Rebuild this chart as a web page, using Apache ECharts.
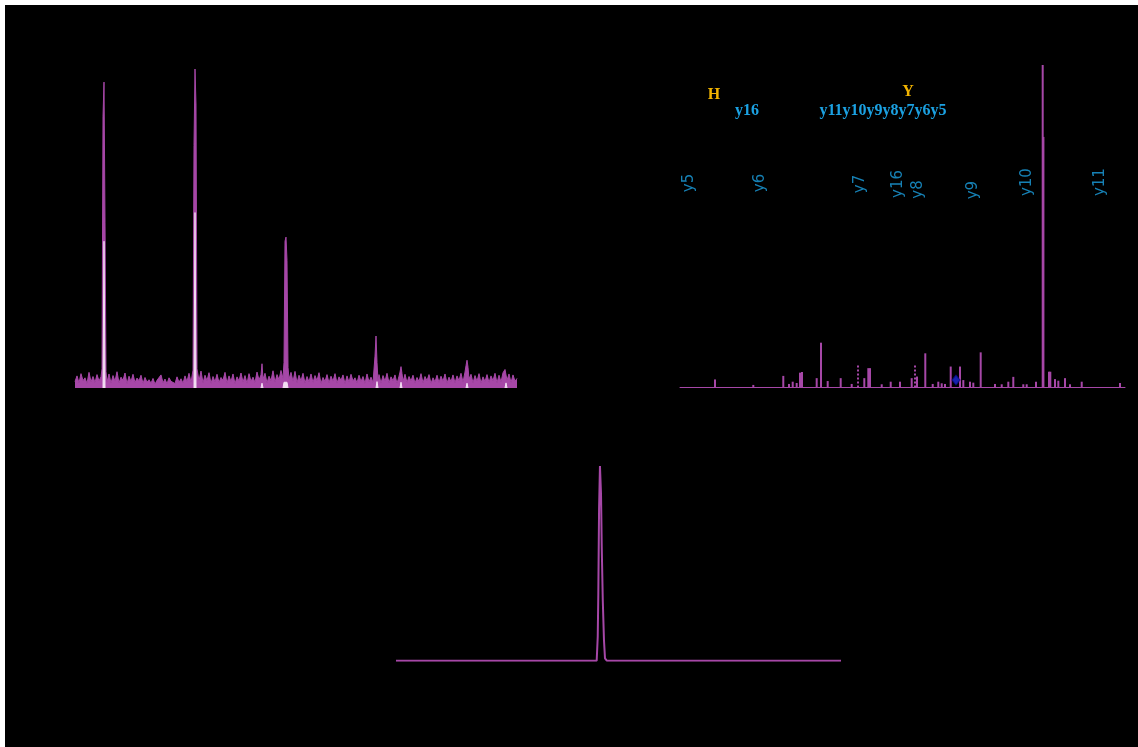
<!DOCTYPE html>
<html>
<head>
<meta charset="utf-8">
<script src="https://cdn.jsdelivr.net/npm/echarts@6/dist/echarts.min.js"></script>
<style>
  html, body { margin: 0; padding: 0; background: #000; overflow: hidden; }
  #frame { position: fixed; left: 0; top: 0; right: 0; bottom: 0; box-sizing: border-box;
           border-top: 5px solid #fff; border-left: 5px solid #fff; }
  #chart { position: absolute; left: 5px; top: 5px; width: 1133px; height: 742px; }
</style>
</head>
<body>
<div id="frame"></div>
<div id="chart"></div>
<script>
// Extracted ion chromatogram: [retention time (min), relative intensity %]
const xicTrace = [
  [18.0,2.0],[18.2,3.8],[18.4,1.6],[18.6,4.5],[18.8,2.3],[19.0,3.2],[19.2,1.4],[19.4,4.9],[19.6,1.9],[19.8,3.6],
  [20.0,1.7],[20.2,4.2],[20.4,2.2],[20.6,3.5],[20.7,6.0],[20.8,85],[20.9,95.9],[21.0,52],[21.1,5.2],[21.2,1.8],[21.4,4.4],
  [21.6,1.5],[21.8,3.9],[22.0,2.1],[22.2,5.1],[22.4,1.6],[22.6,3.4],[22.8,2.4],[23.0,4.7],[23.2,1.3],[23.4,3.7],
  [23.6,2.0],[23.8,4.3],[24.0,1.7],[24.2,3.1],[24.4,2.3],[24.6,4.0],[24.8,1.4],[25.0,3.3],[25.2,1.8],[25.4,2.6],
  [25.6,1.5],[25.8,3.0],[26.0,1.2],[26.2,2.4],[26.4,1.9],[26.6,4.1],[26.8,1.6],[27.0,2.8],[27.2,1.3],[27.4,3.2],
  [27.6,2.1],[27.8,2.7],[28.0,1.4],[28.2,3.5],[28.4,1.8],[28.6,2.9],[28.8,1.5],[29.0,3.8],[29.2,2.0],[29.4,4.6],
  [29.6,1.7],[29.8,5.6],[29.9,76],[30.0,100],[30.1,88.7],[30.2,6.0],[30.4,2.2],[30.6,5.3],[30.8,1.6],[31.0,4.0],
  [31.2,2.3],[31.4,4.8],[31.6,1.4],[31.8,3.6],[32.0,1.9],[32.2,4.3],[32.4,1.7],[32.6,3.3],[32.8,2.4],[33.0,4.9],
  [33.2,1.5],[33.4,3.8],[33.6,2.0],[33.8,4.4],[34.0,1.3],[34.2,3.5],[34.4,2.2],[34.6,4.7],[34.8,1.8],[35.0,3.9],
  [35.2,1.4],[35.4,4.5],[35.6,2.1],[35.8,3.4],[36.0,1.7],[36.2,5.0],[36.4,2.5],[36.6,4.1],[36.7,7.6],[36.8,2.8],[37.0,4.6],
  [37.2,1.6],[37.4,3.7],[37.6,2.3],[37.8,5.4],[38.0,1.8],[38.2,4.2],[38.4,2.6],[38.6,5.5],[38.8,3.0],[38.9,8.0],
  [39.0,46],[39.1,47.3],[39.2,40],[39.3,6.5],
  [39.4,2.8],[39.6,4.9],[39.8,2.0],[40.0,5.2],[40.2,1.6],[40.4,4.0],[40.6,2.2],[40.8,4.6],[41.0,1.5],[41.2,3.6],
  [41.4,1.9],[41.6,4.4],[41.8,1.7],[42.0,3.9],[42.2,2.3],[42.4,4.8],[42.6,1.4],[42.8,3.3],[43.0,2.0],[43.2,4.2],
  [43.4,1.6],[43.6,3.7],[43.8,2.1],[44.0,4.5],[44.2,1.5],[44.4,3.5],[44.6,2.4],[44.8,4.1],[45.0,1.3],[45.2,3.8],
  [45.4,1.8],[45.6,4.3],[45.8,2.2],[46.0,3.2],[46.2,1.6],[46.4,4.0],[46.6,2.0],[46.8,3.6],[47.0,1.4],[47.2,4.4],
  [47.4,1.9],[47.6,3.4],[47.8,1.7],[48.0,10],[48.1,16.3],[48.2,8],[48.3,2.2],[48.4,4.2],[48.6,1.5],[48.8,3.9],
  [49.0,2.1],[49.2,4.6],[49.4,1.6],[49.6,3.5],[49.8,2.3],[50.0,4.1],[50.2,1.4],[50.4,3.7],[50.5,5.0],[50.6,6.7],[50.7,4.5],[50.8,2.0],
  [51.0,4.3],[51.2,1.7],[51.4,3.6],[51.6,2.2],[51.8,4.0],[52.0,1.5],[52.2,3.3],[52.4,2.0],[52.6,4.5],[52.8,1.6],
  [53.0,3.6],[53.2,2.3],[53.4,4.2],[53.6,1.4],[53.8,3.2],[54.0,1.9],[54.2,4.0],[54.4,1.7],[54.6,3.7],[54.8,2.1],
  [55.0,4.4],[55.2,1.5],[55.4,3.4],[55.6,2.0],[55.8,4.1],[56.0,1.6],[56.2,3.8],[56.4,2.3],[56.6,4.6],[56.8,1.8],
  [57.0,5.0],[57.1,7.0],[57.2,8.7],[57.3,6.5],[57.4,2.8],[57.6,4.3],[57.8,1.6],[58.0,3.9],[58.2,2.1],[58.4,4.5],
  [58.6,1.5],[58.8,3.5],[59.0,2.0],[59.2,4.2],[59.4,1.7],[59.6,3.8],[59.8,2.3],[60.0,4.6],[60.2,1.6],[60.4,4.0],
  [60.6,1.9],[60.8,4.8],[61.0,5.8],[61.2,2.4],[61.4,4.4],[61.6,1.7],[61.8,4.1],[62.0,2.1],[62.2,3.0]
];

// Overlaid trace of the co-eluting isotope (drawn light, on top)
const xicOverlay = [
  [20.8,0],[20.9,46],[21.0,0],[21.05,'-'],
  [29.9,0],[30.0,55],[30.1,0],[30.15,'-'],
  [36.6,0],[36.7,1.5],[36.8,0],[36.85,'-'],
  [38.8,0],[38.9,1.8],[39.2,1.8],[39.3,0],[39.35,'-'],
  [48.1,0],[48.2,2.0],[48.3,0],[48.35,'-'],
  [50.5,0],[50.6,1.8],[50.7,0],[50.75,'-'],
  [57.1,0],[57.2,1.5],[57.3,0],[57.35,'-'],
  [61.0,0],[61.1,1.6],[61.2,0]
];

// MS/MS spectrum centroids: [m/z, relative intensity %]
const spectrumPeaks = [
  [341.6,2.5],[496.5,0.8],[617.8,3.6],[640.9,1.1],[655.9,1.8],[672.0,1.4],[685.4,4.6],[693.5,4.8],
  [752.9,2.9],[770.3,13.9],[797.4,2.0],[850.0,2.9],[894.5,1.1],[945.5,2.9],[961.7,6.0],[968.5,6.0],
  [1015.9,1.0],[1052.3,1.8],[1089.9,1.8],[1137.2,2.9],[1158.7,3.4],[1192.2,10.6],[1222.2,1.1],
  [1244.8,1.8],[1258.6,1.3],[1271.9,1.1],[1295.0,6.5],[1332.6,6.5],[1346.0,2.3],[1373.0,1.8],
  [1386.4,1.5],[1416.3,10.9],[1474.1,1.1],[1501.3,1.0],[1528.0,1.8],[1548.2,3.3],[1588.6,1.0],
  [1602.4,1.0],[1640.0,1.8],[1667.1,100],[1670.0,77.7],[1692.6,4.9],[1697.9,4.9],[1716.9,2.6],
  [1730.3,2.1],[1757.4,2.9],[1777.6,1.0],[1824.9,1.8],[1979.8,1.4]
];

// Low-confidence peaks drawn dotted
const dottedPeaks = [[917.2,7.0],[1150.6,7.0]];

// Precursor position
const precursorMark = [[1316.4,2.3]];

// Fragment ion annotations
const ionLabels = ['y5','y6','y7','y16','y8','y9','y10','y11'];
const ionLabelMz = [236.4,523.6,928.1,1081.8,1162.7,1385.2,1603.6,1898.9];
const ionLabelY = [63.4,63.4,63.1,63.1,61.4,61.2,63.7,63.7];

// Sequence coverage marks
const residueMarks = ['H','Y'];
const fragmentRows = ['y16','y11y10y9y8y7y6y5'];

// Precursor chromatogram: [retention time (min), relative intensity %]
const chromTrace = [
  [30.0,0],[34.0,0],[38.0,0],[42.0,0],[43.53,0],[43.60,12.3],[43.64,34.6],[43.69,78.3],[43.75,100],
  [43.82,86],[43.87,58.6],[43.94,31.2],[44.02,10.6],[44.09,1.2],[44.21,0],[48.0,0],[52.0,0],[56.0,0],[60.0,0]
];

const PURPLE = '#a647a7';
const LIGHT = '#f3def3';
const BLUE = '#1ba1e2';
const GOLD = '#f2b400';
const SEQ_FONT = 'bold 16px "Liberation Serif"';

const hiddenX = (gi, min, max) => ({ gridIndex: gi, type: 'value', min: min, max: max, show: false });
const hiddenY = (gi) => ({ gridIndex: gi, type: 'value', min: 0, max: 100, show: false });
const seqText = (x, y, text, fill) => ({
  type: 'text', x: x, y: y, silent: true,
  style: { text: text, fill: fill, font: SEQ_FONT, textAlign: 'center', textVerticalAlign: 'middle' }
});

const chart = echarts.init(document.getElementById('chart'));
chart.setOption({
  backgroundColor: '#000',
  animation: false,
  grid: [
    { left: 70, top: 64, width: 442, height: 319 },
    { left: 675, top: 60, width: 445, height: 322.5 },
    { left: 391, top: 461, width: 445, height: 194.7 }
  ],
  xAxis: [
    hiddenX(0, 18, 62.2),
    { gridIndex: 1, type: 'value', min: 200, max: 2000,
      axisLine: { show: true, onZero: false, lineStyle: { color: PURPLE, width: 1 } },
      axisTick: { show: false }, axisLabel: { show: false }, splitLine: { show: false } },
    hiddenX(2, 30, 60)
  ],
  yAxis: [hiddenY(0), hiddenY(1), hiddenY(2)],
  graphic: [
    seqText(709, 90, residueMarks[0], GOLD),
    seqText(903, 87, residueMarks[1], GOLD),
    seqText(742, 106, fragmentRows[0], BLUE),
    seqText(878, 106, fragmentRows[1], BLUE)
  ],
  series: [
    {
      type: 'line', xAxisIndex: 0, yAxisIndex: 0, data: xicTrace, showSymbol: false, silent: true,
      lineStyle: { color: PURPLE, width: 1 }, areaStyle: { color: PURPLE, opacity: 1 }
    },
    {
      type: 'line', xAxisIndex: 0, yAxisIndex: 0, data: xicOverlay, showSymbol: false, silent: true,
      connectNulls: false, lineStyle: { color: LIGHT, width: 1 }, areaStyle: { color: LIGHT, opacity: 1 }
    },
    {
      type: 'bar', xAxisIndex: 1, yAxisIndex: 1, data: spectrumPeaks, barWidth: 2, silent: true,
      itemStyle: { color: PURPLE },
      markLine: {
        silent: true, symbol: 'none', label: { show: false },
        lineStyle: { color: PURPLE, type: 'dotted', width: 2 },
        data: dottedPeaks.map(p => [{ coord: [p[0], 0] }, { coord: [p[0], p[1]] }])
      }
    },
    {
      type: 'scatter', xAxisIndex: 1, yAxisIndex: 1, data: precursorMark, silent: true,
      symbol: 'diamond', symbolSize: [8, 10],
      itemStyle: { color: '#1c2bd8', borderColor: '#0a0a80', borderWidth: 1 }
    },
    {
      type: 'scatter', xAxisIndex: 1, yAxisIndex: 1, silent: true, symbolSize: 0,
      data: ionLabels.map((n, i) => ({ name: n, value: [ionLabelMz[i], ionLabelY[i]] })),
      label: {
        show: true, formatter: '{b}', position: 'inside', rotate: 90,
        color: BLUE, fontFamily: 'DejaVu Sans', fontSize: 15
      }
    },
    {
      type: 'line', xAxisIndex: 2, yAxisIndex: 2, data: chromTrace, showSymbol: false, silent: true,
      lineStyle: { color: PURPLE, width: 2 }
    }
  ]
});
</script>
</body>
</html>
